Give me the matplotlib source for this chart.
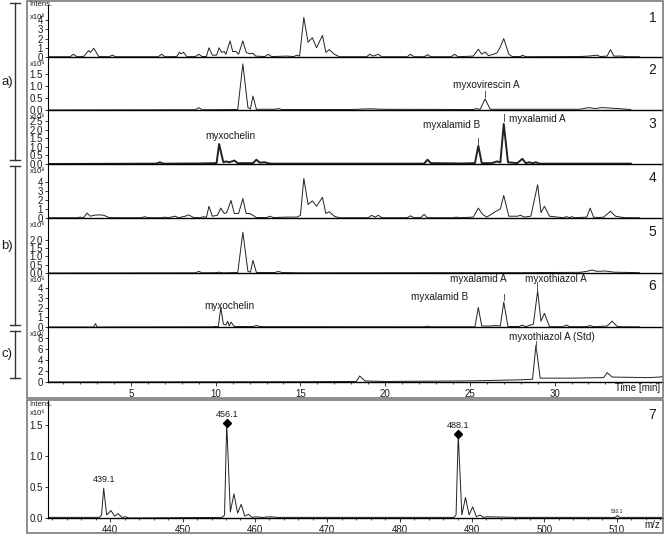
"""LC-MS chromatograms (panels 1-6, c) and mass spectrum (panel 7)."""

import matplotlib
matplotlib.use("Agg")
import matplotlib.pyplot as plt
from matplotlib.lines import Line2D
from matplotlib.patches import Rectangle
from matplotlib.ticker import MultipleLocator

W, H = 664, 535

# ---- data: trace vertices (retention time [min], intensity) ----
p1_t = [0.1, 1.4, 1.6, 1.8, 2.2, 2.5, 2.6, 2.8, 3.1, 3.7, 3.9, 4.1, 6.6, 6.8, 7.0, 7.7, 7.85, 7.95, 8.1, 8.3,
        8.8, 9.0, 9.2, 9.45, 9.6, 9.8, 10.05, 10.2, 10.35, 10.5, 10.6, 10.85, 11.0, 11.2, 11.35, 11.6, 11.8,
        12.0, 12.2, 12.35, 12.9, 13.1, 13.3, 14.2, 14.6, 14.8, 14.95, 15.2, 15.45, 15.7, 15.95, 16.3, 16.5,
        16.7, 17.0, 17.3, 18.9, 19.1, 19.3, 19.6, 19.8, 21.3, 21.5, 21.7, 22.3, 22.5, 22.7, 23.9, 24.1, 24.3,
        25.2, 25.5, 25.7, 25.9, 26.1, 26.4, 26.6, 26.8, 27.0, 27.3, 27.5, 28.0, 28.1, 28.3, 31.5, 32.0, 32.5,
        32.7, 33.1, 33.3, 33.5, 34.0, 34.2, 35.0]
p1_y = [0.03, 0.03, 0.3, 0.03, 0.05, 0.7, 0.5, 0.95, 0.05, 0.03, 0.2, 0.03, 0.03, 0.3, 0.03, 0.05, 0.5, 0.35,
        0.5, 0.03, 0.05, 0.3, 0.05, 0.05, 1.0, 0.2, 0.2, 1.0, 0.5, 0.6, 0.3, 1.75, 0.6, 0.6, 0.3, 1.75, 0.5,
        0.35, 0.4, 0.1, 0.05, 0.3, 0.05, 0.1, 0.05, 0.2, 0.1, 4.3, 1.6, 2.1, 1.0, 2.35, 0.5, 0.8, 0.3, 0.03,
        0.03, 0.3, 0.1, 0.3, 0.03, 0.03, 0.3, 0.03, 0.03, 0.25, 0.03, 0.03, 0.3, 0.03, 0.1, 0.85, 0.3, 0.55,
        0.15, 0.3, 0.45, 1.1, 2.0, 0.3, 0.05, 0.05, 0.2, 0.03, 0.05, 0.1, 0.2, 0.05, 0.1, 0.8, 0.1, 0.1,
        0.03, 0.03]

p2_t = [0.1, 8.8, 9.0, 9.2, 11.3, 11.6, 11.9, 12.05, 12.2, 12.4, 13.5, 13.7, 13.9, 18.0, 19.0, 20.0, 25.2,
        25.4, 25.6, 25.9, 26.2, 31.5, 32.0, 32.4, 32.8, 33.3, 34.5]
p2_y = [0.0, 0.01, 0.1, 0.01, 0.02, 1.92, 0.1, 0.05, 0.58, 0.03, 0.03, 0.06, 0.02, 0.02, 0.05, 0.03, 0.02,
        0.06, 0.02, 0.46, 0.03, 0.03, 0.1, 0.06, 0.1, 0.08, 0.02]

p3_t = [0.1, 6.5, 6.7, 6.9, 9.0, 10.05, 10.2, 10.45, 10.6, 10.8, 11.1, 11.3, 12.2, 12.4, 12.6, 12.9, 13.2,
        22.3, 22.5, 22.7, 24.5, 25.3, 25.5, 25.7, 26.3, 26.6, 26.8, 27.0, 27.25, 27.8, 28.1, 28.3, 28.5,
        28.7, 28.9, 29.1, 34.5]
p3_y = [0.0, 0.02, 0.1, 0.02, 0.03, 0.05, 1.16, 0.1, 0.15, 0.1, 0.2, 0.05, 0.05, 0.25, 0.08, 0.1, 0.02,
        0.02, 0.25, 0.05, 0.03, 0.05, 1.06, 0.05, 0.05, 0.15, 0.1, 2.33, 0.1, 0.05, 0.3, 0.05, 0.1, 0.05,
        0.1, 0.02, 0.02]

p4_t = [0.1, 1.8, 2.0, 2.2, 2.4, 2.6, 2.8, 3.1, 3.4, 3.7, 4.5, 5.6, 5.8, 6.0, 6.8, 7.0, 7.2, 7.6, 7.8, 8.2,
        8.4, 8.7, 9.1, 9.3, 9.45, 9.6, 9.8, 10.1, 10.3, 10.5, 10.65, 10.9, 11.1, 11.35, 11.6, 11.8, 12.0,
        12.2, 12.4, 13.0, 13.2, 13.4, 14.2, 14.8, 15.0, 15.2, 15.45, 15.7, 15.95, 16.3, 16.5, 16.7, 17.0,
        17.3, 19.0, 19.2, 19.4, 19.6, 19.8, 21.3, 21.5, 21.7, 22.1, 22.3, 22.5, 24.0, 24.2, 24.4, 25.2,
        25.5, 25.75, 26.0, 26.5, 26.8, 27.0, 27.3, 27.8, 28.0, 28.2, 28.6, 29.0, 29.2, 29.4, 29.7, 30.5,
        30.7, 30.9, 31.0, 31.2, 31.9, 32.1, 32.3, 32.6, 32.9, 33.3, 33.6, 33.9, 34.2, 35.0]
p4_y = [0.03, 0.03, 0.1, 0.03, 0.55, 0.2, 0.3, 0.35, 0.3, 0.05, 0.03, 0.03, 0.15, 0.03, 0.03, 0.1, 0.03,
        0.2, 0.03, 0.2, 0.35, 0.05, 0.03, 0.15, 0.05, 1.3, 0.2, 0.3, 1.1, 0.5, 0.6, 1.95, 0.5, 0.5, 2.15,
        0.5, 0.5, 0.3, 0.05, 0.05, 0.2, 0.05, 0.1, 0.1, 0.3, 4.4, 1.5, 1.9, 1.3, 2.3, 0.5, 0.7, 0.2, 0.03,
        0.03, 0.3, 0.1, 0.3, 0.03, 0.03, 0.25, 0.03, 0.05, 0.4, 0.03, 0.03, 0.1, 0.03, 0.1, 1.1, 0.4, 0.1,
        0.7, 1.0, 2.5, 0.2, 0.2, 0.3, 0.1, 0.2, 3.7, 0.6, 1.3, 0.2, 0.03, 0.15, 0.03, 0.15, 0.03, 0.1, 1.1,
        0.1, 0.05, 0.1, 0.75, 0.2, 0.1, 0.03, 0.03]

p5_t = [0.1, 8.8, 9.0, 9.2, 10.0, 10.2, 10.4, 11.3, 11.6, 11.9, 12.05, 12.2, 12.4, 13.5, 13.7, 13.9, 15.0,
        24.0, 28.0, 31.5, 31.9, 32.2, 32.5, 33.0, 33.5, 35.0]
p5_y = [0.0, 0.01, 0.1, 0.01, 0.02, 0.05, 0.01, 0.03, 2.45, 0.1, 0.05, 0.76, 0.03, 0.03, 0.1, 0.03, 0.01,
        0.02, 0.02, 0.04, 0.1, 0.18, 0.1, 0.12, 0.05, 0.02]

p6_t = [0.1, 2.8, 2.9, 3.0, 9.8, 10.0, 10.15, 10.3, 10.45, 10.6, 10.7, 10.8, 10.9, 11.1, 12.2, 12.4, 12.6,
        13.0, 22.3, 22.5, 22.7, 25.3, 25.5, 25.7, 26.2, 26.5, 26.8, 27.0, 27.25, 27.9, 28.1, 28.3, 28.75,
        29.0, 29.2, 29.4, 29.7, 30.5, 30.7, 30.9, 31.9, 32.1, 32.3, 33.1, 33.4, 33.7, 34.0, 35.0]
p6_y = [0.0, 0.0, 0.35, 0.0, 0.02, 0.05, 0.02, 2.0, 0.3, 0.2, 0.6, 0.1, 0.5, 0.05, 0.05, 0.15, 0.05, 0.03,
        0.02, 0.08, 0.02, 0.02, 2.0, 0.1, 0.1, 0.15, 0.1, 2.55, 0.05, 0.05, 0.2, 0.03, 0.3, 3.7, 0.6, 1.4,
        0.03, 0.03, 0.2, 0.03, 0.03, 0.15, 0.03, 0.1, 0.6, 0.05, 0.02, 0.02]

pc_t = [0.1, 15.0, 18.3, 18.5, 18.8, 20.0, 25.0, 26.5, 28.0, 28.7, 28.9, 29.15, 31.0, 32.9, 33.1, 33.4,
        35.5, 36.2, 36.4]
pc_y = [0.0, 0.05, 0.1, 1.1, 0.2, 0.1, 0.2, 0.3, 0.4, 0.5, 6.7, 0.7, 0.7, 0.8, 1.7, 0.9, 0.8, 0.9, 1.0]

ms_mz = [431.4, 438.5, 438.8, 439.1, 439.5, 440.1, 440.6, 441.1, 441.6, 442.1, 442.6, 455.5, 455.8, 456.1,
         456.6, 457.1, 457.6, 458.1, 458.6, 459.1, 459.6, 460.1, 461.0, 462.1, 463.0, 487.5, 487.8, 488.1,
         488.6, 489.1, 489.6, 490.1, 490.6, 491.1, 491.6, 492.1, 496.0, 509.8, 510.1, 510.4, 516.4]
ms_int = [0.01, 0.01, 0.05, 0.48, 0.05, 0.12, 0.03, 0.07, 0.01, 0.02, 0.0, 0.01, 0.05, 1.53, 0.1, 0.39,
          0.08, 0.22, 0.03, 0.06, 0.01, 0.02, 0.01, 0.02, 0.01, 0.01, 0.05, 1.35, 0.05, 0.33, 0.05, 0.18,
          0.02, 0.05, 0.01, 0.02, 0.01, 0.01, 0.04, 0.01, 0.01]

traces = [(p1_t, p1_y), (p2_t, p2_y), (p3_t, p3_y), (p4_t, p4_y), (p5_t, p5_y), (p6_t, p6_y), (pc_t, pc_y)]
panel_ids = ["1", "2", "3", "4", "5", "6", ""]
exponents = ["x10⁸", "x10⁶", "x10⁶", "x10⁸", "x10⁶", "x10⁶", "x10⁷"]
ytick_sets = [[0, 1, 2, 3, 4], [0.0, 0.5, 1.0, 1.5], [0.0, 0.5, 1.0, 1.5, 2.0, 2.5], [0, 1, 2, 3, 4],
              [0.0, 0.5, 1.0, 1.5, 2.0], [0, 1, 2, 3, 4], [0, 2, 4, 6, 8]]
ytick_fmt = ["{:.0f}", "{:.1f}", "{:.1f}", "{:.0f}", "{:.1f}", "{:.0f}", "{:.0f}"]

# annotations: (panel, label, x, y, ha, tick x, tick y0, tick y1)
labels = [
    (1, "myxovirescin A", 25.95, 1.04, "center", 25.9, 0.54, 0.79),
    (2, "myxochelin", 10.86, 1.63, "center", None, 0, 0),
    (2, "myxalamid B", 23.9, 2.27, "center", 25.5, 1.1, 1.5),
    (2, "myxalamid A", 27.3, 2.6, "left", 27.0, 2.5, 2.9),
    (5, "myxochelin", 10.8, 2.15, "center", None, 0, 0),
    (5, "myxalamid B", 23.2, 3.1, "center", None, 0, 0),
    (5, "myxalamid A", 25.5, 4.9, "center", 27.0, 2.8, 3.4),
    (5, "myxothiazol A", 30.1, 4.9, "center", 28.95, 3.7, 4.6),
    (6, "myxothiazol A (Std)", 29.85, 8.2, "center", 28.9, 5.8, 7.4),
]

# ---- layout (pixel rows of each panel) ----
rows = [(5, 57), (57, 110), (110, 164), (164, 218), (218, 273), (273, 327), (327, 382)]
px_per_unit = [9.2, 24.0, 17.2, 9.0, 16.6, 9.75, 5.5]
LEFT, RIGHT = 48, 663
TEXT = "#1a1a1a"


def rect(left, top, right, bottom):
    return [left / W, 1 - bottom / H, (right - left) / W, (bottom - top) / H]


def fig_line(fig, x0, y0, x1, y1, lw=1.0, color="#333333"):
    fig.add_artist(Line2D([x0 / W, x1 / W], [1 - y0 / H, 1 - y1 / H], lw=lw, color=color,
                          transform=fig.transFigure))


def style_axis(ax):
    for s in ("top", "right"):
        ax.spines[s].set_visible(False)
    ax.spines["left"].set_linewidth(0.8)
    ax.spines["bottom"].set_linewidth(1.0)
    ax.tick_params(axis="y", direction="out", length=2.5, width=0.6, pad=1, labelsize=7, colors=TEXT)
    ax.patch.set_alpha(0)


def main():
    plt.rcParams["font.family"] = ["Liberation Sans", "DejaVu Sans"]
    fig = plt.figure(figsize=(W / 100, H / 100), dpi=100)

    axes = []
    for i, (top, bot) in enumerate(rows):
        ax = fig.add_axes(rect(LEFT, top, RIGHT, bot))
        t, y = traces[i]
        ax.plot(t, y, color="#222222", lw=1.4 if i == 2 else 0.7)
        ax.set_xlim(0.1, 36.4)
        ax.set_ylim(0, (bot - top) / px_per_unit[i])
        style_axis(ax)
        ax.set_yticks(ytick_sets[i])
        ax.set_yticklabels([ytick_fmt[i].format(v) for v in ytick_sets[i]])
        if i < 6:
            ax.tick_params(axis="x", bottom=False, labelbottom=False)
        else:
            ax.set_xticks([5, 10, 15, 20, 25, 30])
            ax.xaxis.set_minor_locator(MultipleLocator(1))
            ax.tick_params(axis="x", which="major", length=3, width=0.6, labelsize=7, colors=TEXT, pad=2)
            ax.tick_params(axis="x", which="minor", length=1.5, width=0.5)
            ax.text(0.995, -0.11, "Time [min]", transform=ax.transAxes, ha="right", va="center",
                    fontsize=7, color=TEXT)
        if panel_ids[i]:
            ax.text(0.983, 0.75, panel_ids[i], transform=ax.transAxes, ha="center", va="center",
                    fontsize=10, color=TEXT)
        fig.text(30 / W, 1 - (top + (9 if i == 0 else 4)) / H, exponents[i], fontsize=5.5,
                 ha="left", va="top", color=TEXT)
        axes.append(ax)

    fig.text(29 / W, 1 - 1.5 / H, "Intens.", fontsize=5.5, ha="left", va="top", color=TEXT)

    for k, text, x, y, ha, tx, ty0, ty1 in labels:
        ax = axes[k]
        ax.text(x, y, text, ha=ha, va="center", fontsize=7.2, color=TEXT)
        if tx is not None:
            ax.plot([tx, tx], [ty0, ty1], color="#555555", lw=0.7)

    # mass spectrum panel
    ax7 = fig.add_axes(rect(LEFT, 400, RIGHT, 518))
    ax7.plot(ms_mz, ms_int, color="#222222", lw=0.7)
    ax7.set_xlim(431.4, 516.4)
    ax7.set_ylim(0, 118 / 62)
    style_axis(ax7)
    ax7.set_yticks([0.0, 0.5, 1.0, 1.5])
    ax7.set_yticklabels(["0.0", "0.5", "1.0", "1.5"])
    ax7.set_xticks(range(440, 511, 10))
    ax7.xaxis.set_minor_locator(MultipleLocator(2))
    ax7.tick_params(axis="x", which="major", length=3, width=0.6, labelsize=7, colors=TEXT, pad=2)
    ax7.tick_params(axis="x", which="minor", length=1.5, width=0.5)
    ax7.plot([456.1, 488.1], [1.53, 1.35], ls="none", marker="D", ms=4, color="black")
    ax7.text(439.1, 0.55, "439.1", ha="center", va="bottom", fontsize=6.5, color=TEXT)
    ax7.text(456.1, 1.6, "456.1", ha="center", va="bottom", fontsize=6.5, color=TEXT)
    ax7.text(488.1, 1.42, "488.1", ha="center", va="bottom", fontsize=6.5, color=TEXT)
    ax7.text(510.1, 0.07, "510.1", ha="center", va="bottom", fontsize=3.5, color=TEXT)
    ax7.text(0.983, 0.87, "7", transform=ax7.transAxes, ha="center", va="center", fontsize=10, color=TEXT)
    ax7.text(0.995, -0.06, "m/z", transform=ax7.transAxes, ha="right", va="center", fontsize=7, color=TEXT)
    fig.text(29 / W, 1 - 401 / H, "Intens.", fontsize=5.5, ha="left", va="top", color=TEXT)
    fig.text(30 / W, 1 - 410 / H, "x10⁶", fontsize=5.5, ha="left", va="top", color=TEXT)

    # outer frames
    for top, bot in [(1, 398), (400, 533)]:
        fig.add_artist(Rectangle((27 / W, 1 - bot / H), (663 - 27) / W, (bot - top) / H, fill=False,
                                 ec="#7a7a7a", lw=1.2, transform=fig.transFigure))

    # group brackets a), b), c)
    for top, bot, name in [(3, 160, "a)"), (166, 325, "b)"), (331, 378, "c)")]:
        fig_line(fig, 15, top, 15, bot)
        fig_line(fig, 10, top, 20, top)
        fig_line(fig, 10, bot, 20, bot)
        fig.text(7 / W, 1 - ((top + bot) / 2) / H, name, fontsize=9.5, ha="center", va="center",
                 color=TEXT, bbox=dict(fc="white", ec="none", pad=1))

    fig.savefig("out.png", dpi=100)
    plt.close(fig)


if __name__ == "__main__":
    main()
